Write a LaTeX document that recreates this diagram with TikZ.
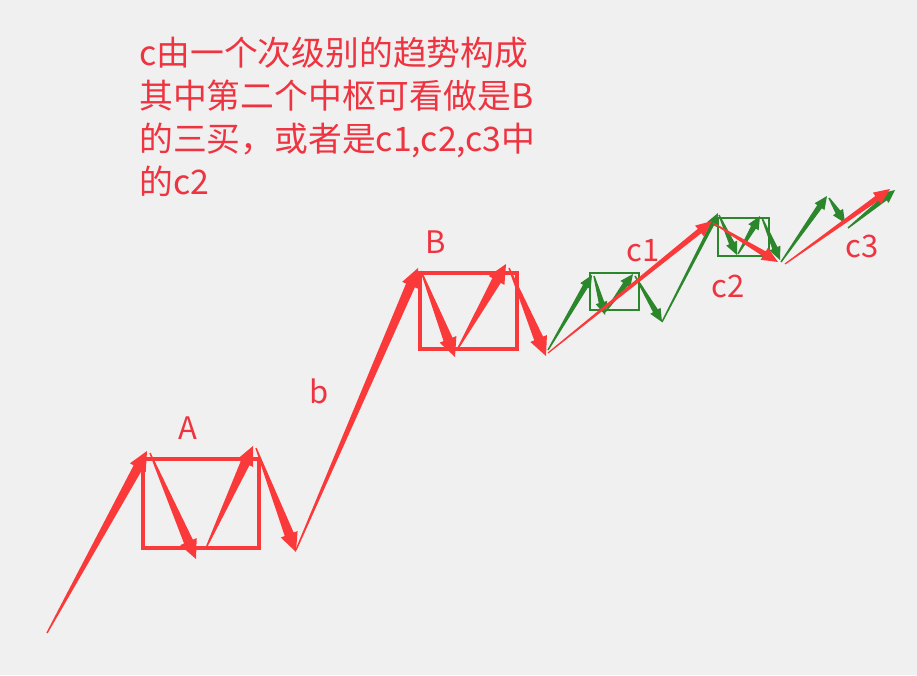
\documentclass[tikz,border=0pt]{standalone}
\usepackage{fontspec}
\setmainfont{Noto Sans CJK SC}
\usetikzlibrary{calc}
\definecolor{bgc}{RGB}{240,240,240}
\definecolor{redc}{RGB}{250,58,58}
\definecolor{txtc}{RGB}{238,52,64}
\definecolor{greenc}{RGB}{44,134,44}
% #1 colour, #2 from, #3 to, #4 start half width, #5 neck half width, #6 head length, #7 head half width
\newcommand\wedgearr[7]{%
  \path ($(#3)!#6!(#2)$) coordinate (wN);
  \fill[#1] ($(#2)!#4!90:(#3)$) -- ($(wN)!#5!90:(#3)$) -- ($(wN)!#7!90:(#3)$) -- (#3)
    -- ($(wN)!#7!-90:(#3)$) -- ($(wN)!#5!-90:(#3)$) -- ($(#2)!#4!-90:(#3)$) -- cycle;
}
\newcommand\bigarr[2]{\wedgearr{redc}{#1}{#2}{0.7pt}{4.8pt}{19pt}{9pt}}
\newcommand\redarr[2]{\wedgearr{redc}{#1}{#2}{0.6pt}{2.8pt}{16pt}{7pt}}
\newcommand\grnarr[2]{\wedgearr{greenc}{#1}{#2}{0.7pt}{2.8pt}{13pt}{6pt}}
\tikzset{
  redbox/.style={draw=redc, line width=3.2pt},
  grnbox/.style={draw=greenc, line width=1.1pt},
  lbl/.style={text=txtc, font=\fontsize{31}{36}\selectfont, inner sep=0pt},
  txt/.style={text=txtc, font=\fontsize{33.8}{43}\selectfont, inner sep=0pt, anchor=base west}
}
\begin{document}
\begin{tikzpicture}[x=1pt,y=-1pt]
\fill[bgc] (0,0) rectangle (917,675);
\useasboundingbox (0,0) rectangle (917,675);
% main red points
\coordinate (p0) at (47,633);
\coordinate (p1) at (147,451);
\coordinate (p1s) at (150,453);
\coordinate (p2) at (196,559);
\coordinate (p2s) at (206,548);
\coordinate (p3) at (253,446);
\coordinate (p3s) at (256,448);
\coordinate (p4) at (296,552);
\coordinate (p4s) at (296,550);
\coordinate (p5) at (418,268);
\coordinate (p5s) at (421,271);
\coordinate (p6) at (455,357);
\coordinate (p6s) at (457,350);
\coordinate (p7) at (506,264);
\coordinate (p7s) at (509,268);
\coordinate (p8) at (546,356);
% boxes
\draw[redbox] (143,459) rectangle (259,548);
\draw[redbox] (420,273) rectangle (517,349);
\bigarr{p0}{p1}
\bigarr{p1s}{p2}
\bigarr{p2s}{p3}
\bigarr{p3s}{p4}
\bigarr{p4s}{p5}
\bigarr{p5s}{p6}
\bigarr{p6s}{p7}
\bigarr{p7s}{p8}
% green points
\coordinate (g0) at (548,350);
\coordinate (g1) at (592,275);
\coordinate (g1s) at (594,276);
\coordinate (g2) at (605,315);
\coordinate (g2s) at (605,312);
\coordinate (g3) at (633,274);
\coordinate (g3s) at (635,276);
\coordinate (g4) at (662,322);
\coordinate (g5) at (718,213);
\coordinate (g5s) at (719,215);
\coordinate (g6) at (737,255);
\coordinate (g6s) at (738,254);
\coordinate (g7) at (760,216);
\coordinate (g7s) at (762,218);
\coordinate (g8) at (780,260);
\coordinate (g8s) at (781,262);
\coordinate (g9) at (827,196);
\coordinate (g9s) at (829,198);
\coordinate (g10) at (845,223);
\coordinate (g10s) at (848,228);
\coordinate (g11) at (895,190);
% red c arrows
\coordinate (r0) at (548,353);
\coordinate (r1) at (712,221);
\coordinate (r1s) at (713,223);
\coordinate (r2) at (778,262);
\coordinate (r2s) at (785,264);
\coordinate (r3) at (890,189);
\draw[grnbox] (590,273) rectangle (639,310);
\draw[grnbox] (718,218) rectangle (769,256);
\grnarr{g0}{g1}
\grnarr{g1s}{g2}
\grnarr{g2s}{g3}
\grnarr{g3s}{g4}
\wedgearr{greenc}{g4}{g5}{0.7pt}{2pt}{13pt}{5.5pt}
\grnarr{g5s}{g6}
\grnarr{g6s}{g7}
\grnarr{g7s}{g8}
\grnarr{g8s}{g9}
\grnarr{g9s}{g10}
\grnarr{g10s}{g11}
\redarr{r0}{r1}
\redarr{r1s}{r2}
\redarr{r2s}{r3}
% labels
\node[lbl] (lA) at (188,428) {A};
\node[lbl] (lB) at (436,242) {B};
\node[lbl] (lb) at (319,391) {b};
\node[lbl] (lc1) at (643,251) {c1};
\node[lbl] (lc2) at (728,286) {c2};
\node[lbl] (lc3) at (862,246) {c3};
% text
\node[txt] (t1) at (139,65) {c由一个次级别的趋势构成};
\node[txt] (t2) at (139,108) {其中第二个中枢可看做是B};
\node[txt] (t3) at (139,151) {的三买，或者是c1,c2,c3中};
\node[txt] (t4) at (139,194) {的c2};
\end{tikzpicture}
\end{document}
